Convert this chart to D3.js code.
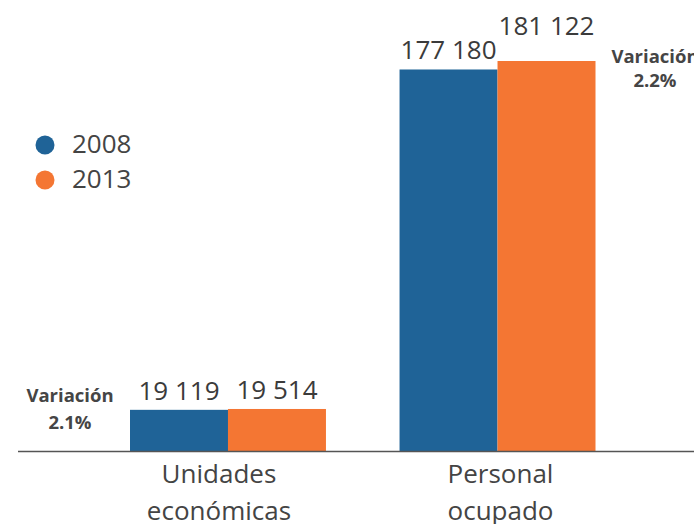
<!DOCTYPE html>
<html>
<head>
<meta charset="utf-8">
<script src="https://cdn.jsdelivr.net/npm/d3@7"></script>
<style>
  html, body { margin: 0; padding: 0; background: #fff; }
  svg { display: block; }
  text { font-family: "Open Sans", "Noto Sans", sans-serif; }
</style>
</head>
<body>
<svg id="chart" width="694" height="524"></svg>
<script>
const categories = [["Unidades", "económicas"], ["Personal", "ocupado"]];
const categoryKeys = ["Unidades económicas", "Personal ocupado"];
const years = ["2008", "2013"];
const values2008 = [19119, 177180];
const values2013 = [19514, 181122];
const valueLabels2008 = ["19 119", "177 180"];
const valueLabels2013 = ["19 514", "181 122"];
const variationLabels = ["2.1%", "2.2%"];
const colors = ["#1f6397", "#f47633"];

const svg = d3.select("#chart");
const baseY = 451;

const x0 = d3.scaleBand().domain(categoryKeys).range([130, 595.5]).paddingInner(0.273).paddingOuter(0);
const x1 = d3.scaleBand().domain(years).range([0, x0.bandwidth()]).padding(0);
const y = d3.scaleLinear().domain([0, 181122]).range([baseY, 61]);

const series = [values2008, values2013];
const seriesLabels = [valueLabels2008, valueLabels2013];

const data = [];
categoryKeys.forEach((c, i) => {
  years.forEach((yr, j) => {
    data.push({ cat: c, ci: i, year: yr, yi: j, value: series[j][i], label: seriesLabels[j][i] });
  });
});

// bars
svg.append("g").selectAll("rect").data(data).join("rect")
  .attr("x", d => x0(d.cat) + x1(d.year))
  .attr("y", d => y(d.value))
  .attr("width", x1.bandwidth())
  .attr("height", d => y(0) - y(d.value))
  .attr("fill", d => colors[d.yi]);

// value labels
svg.append("g").selectAll("text").data(data).join("text")
  .attr("x", d => x0(d.cat) + x1(d.year) + x1.bandwidth() / 2)
  .attr("y", d => y(d.value) - ((d.ci === 1 && d.yi === 1) ? 26 : 10))
  .attr("text-anchor", "middle")
  .attr("font-size", 26)
  .attr("fill", "#3b3b3b")
  .text(d => d.label);

// axis baseline
svg.append("line")
  .attr("x1", 18).attr("x2", 694)
  .attr("y1", baseY + 0.5).attr("y2", baseY + 0.5)
  .attr("stroke", "#555").attr("stroke-width", 1.6);

// category labels
categories.forEach((lines, i) => {
  const cx = x0(categoryKeys[i]) + x0.bandwidth() / 2 + (i === 0 ? -9 : 3);
  const t = svg.append("text")
    .attr("text-anchor", "middle")
    .attr("font-size", 26)
    .attr("fill", "#444");
  lines.forEach((ln, k) => {
    t.append("tspan").attr("x", cx).attr("y", 483 + k * 37).text(ln);
  });
});

// variation labels
const varPos = [
  { x: 70, y: 402, dy: 27 },
  { x: 655, y: 63, dy: 24 }
];
variationLabels.forEach((v, i) => {
  const p = varPos[i];
  const t = svg.append("text")
    .attr("text-anchor", "middle")
    .attr("font-size", 18.5)
    .attr("font-weight", "bold")
    .attr("fill", "#454545");
  t.append("tspan").attr("x", p.x).attr("y", p.y).text("Variación");
  t.append("tspan").attr("x", p.x).attr("y", p.y + p.dy).text(v);
});

// legend
const legend = svg.append("g");
years.forEach((yr, j) => {
  legend.append("circle")
    .attr("cx", 45).attr("cy", 145 + j * 35).attr("r", 9.5)
    .attr("fill", colors[j]);
  legend.append("text")
    .attr("x", 72).attr("y", 153 + j * 35)
    .attr("font-size", 26)
    .attr("fill", "#444")
    .text(yr);
});
</script>
</body>
</html>
